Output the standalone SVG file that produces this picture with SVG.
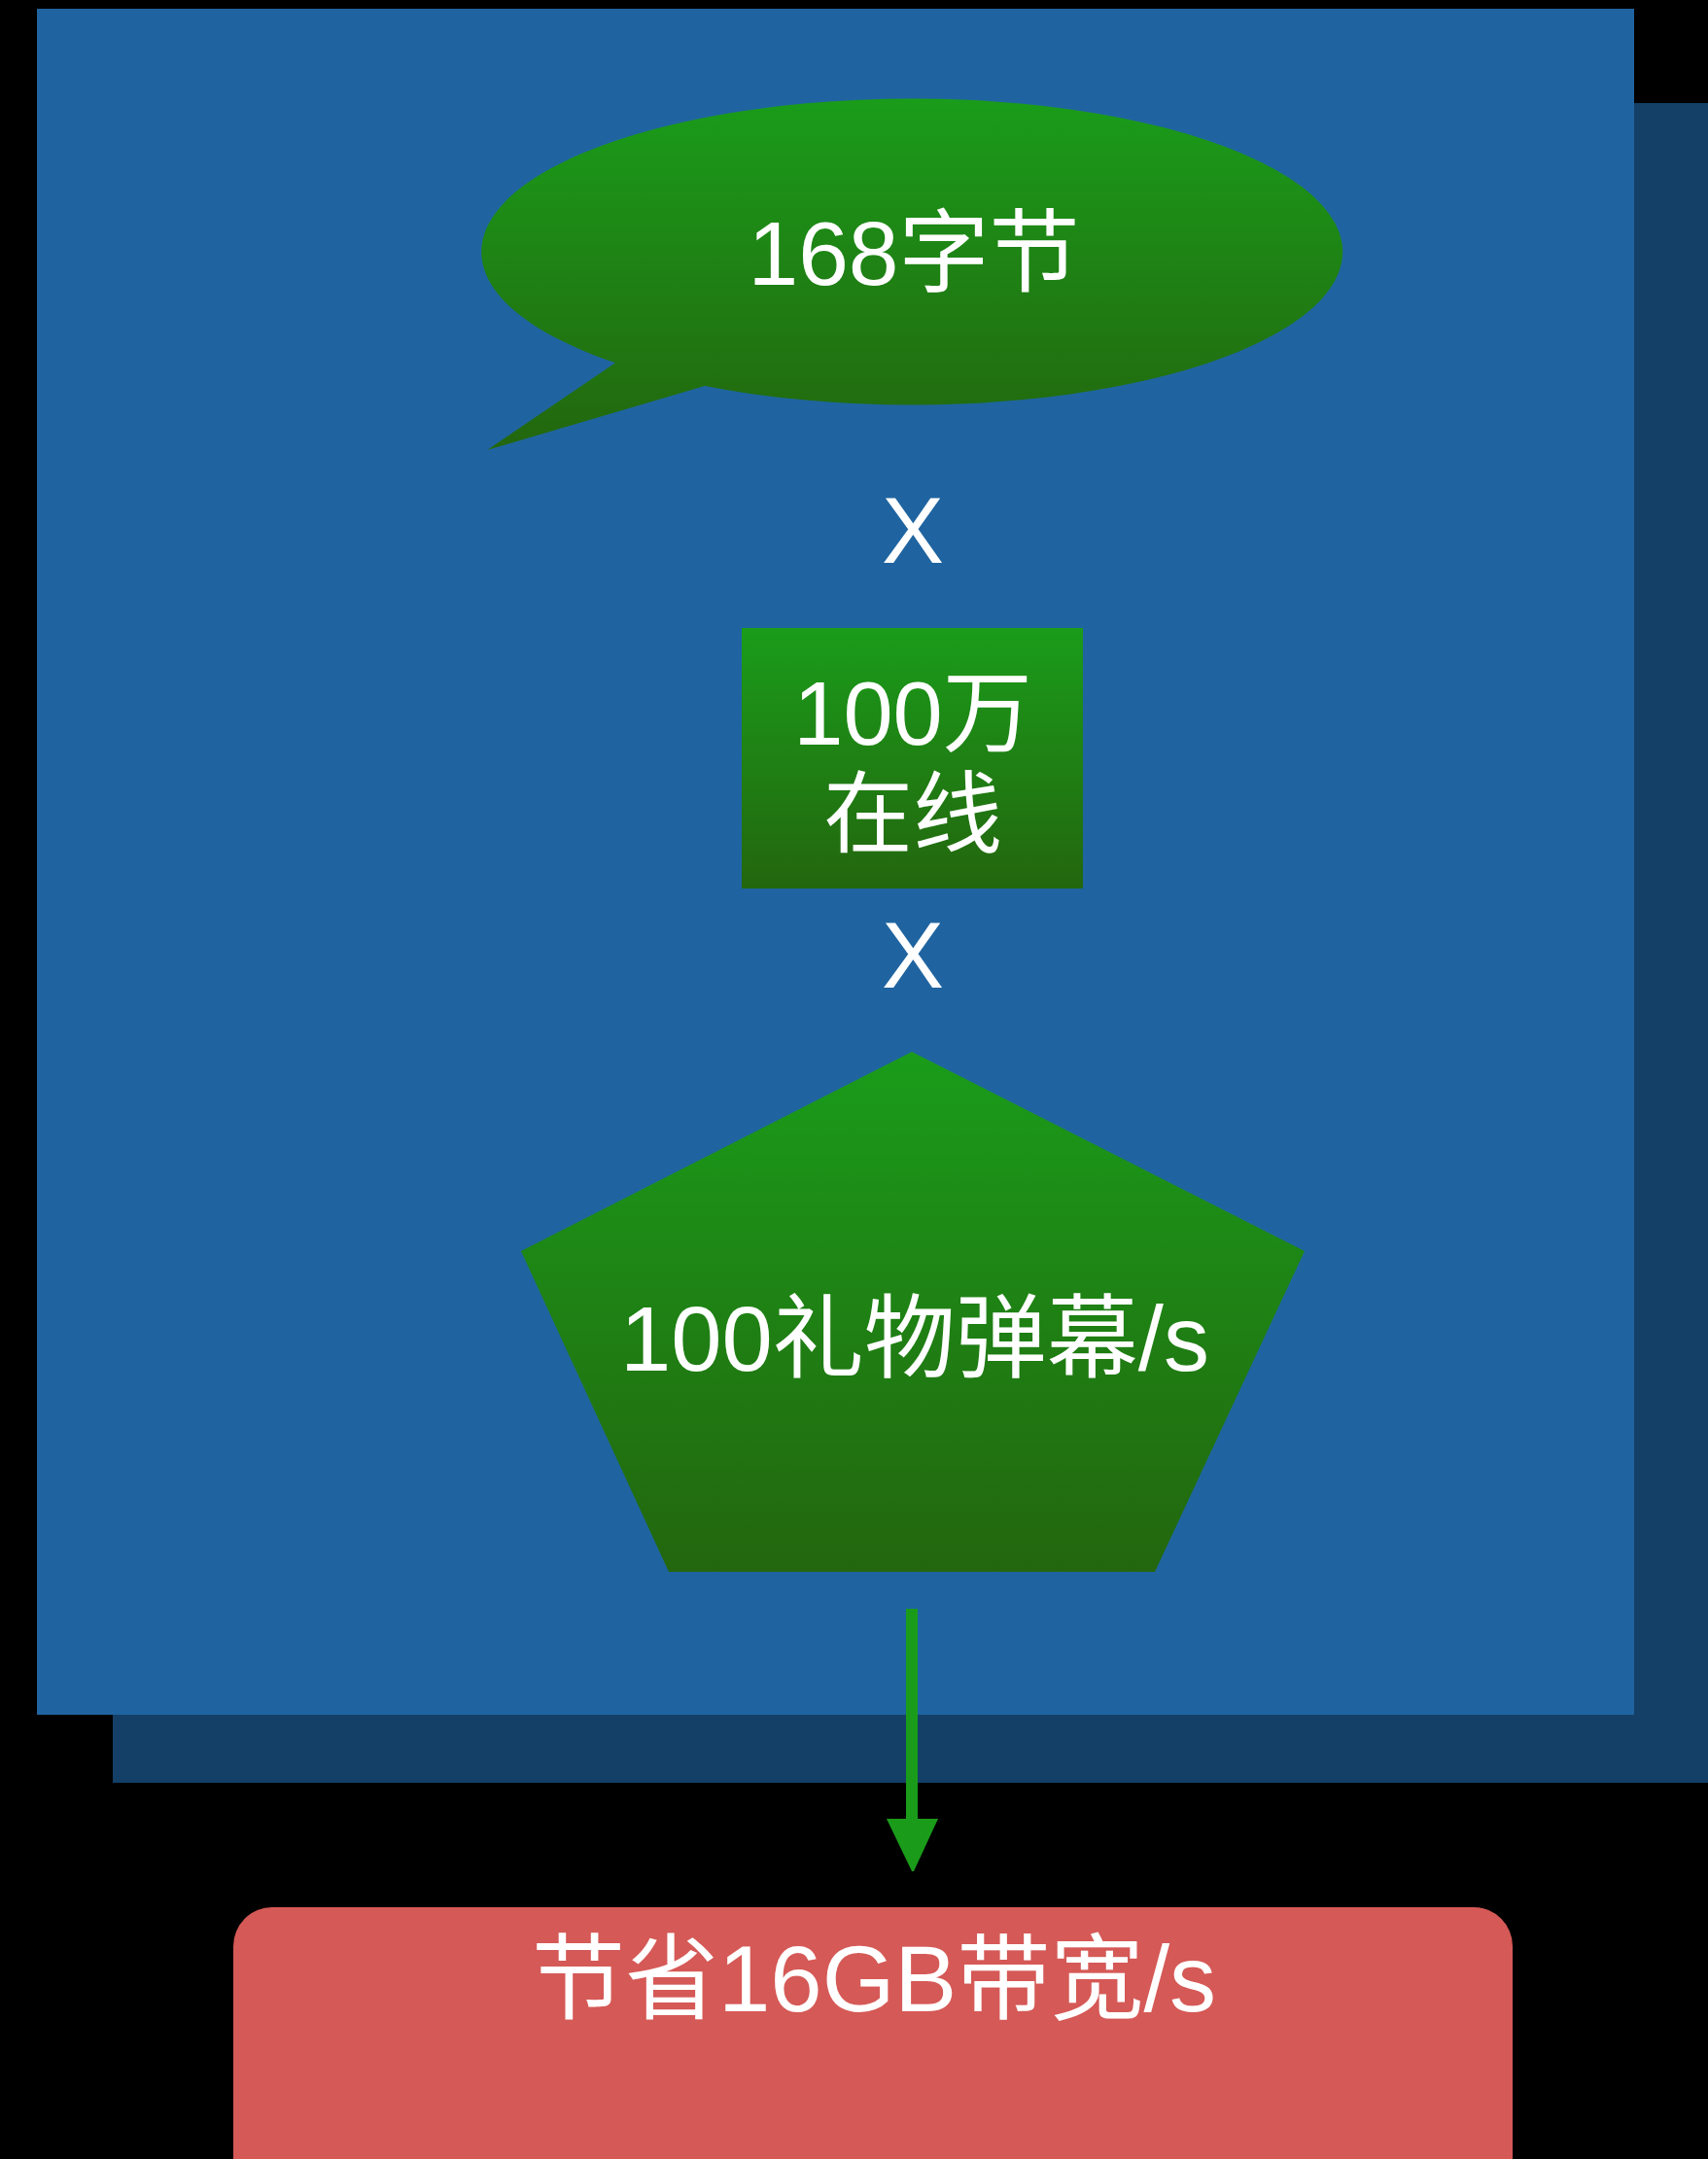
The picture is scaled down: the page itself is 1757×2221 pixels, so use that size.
<svg xmlns="http://www.w3.org/2000/svg" width="1757" height="2221" viewBox="0 0 1757 2221">
<defs>
<linearGradient id="g1" x1="0" y1="0" x2="0" y2="1">
<stop offset="0" stop-color="#1a9c1a"/>
<stop offset="1" stop-color="#23660e"/>
</linearGradient>
<style>
.t{fill:#ffffff;font-family:"Liberation Sans","Noto Sans CJK SC",sans-serif;text-anchor:middle}
.node{fill:url(#g1)}
</style>
</defs>
<rect x="0" y="0" width="1757" height="2221" fill="#000000"/>
<g id="panel">
<rect x="116" y="106" width="1641" height="1728" fill="#143f66"/>
<rect x="38" y="9" width="1643" height="1755" fill="#1f64a0"/>
</g>
<g id="bubble">
<path class="node" d="M633,373.2 A443,157.5 0 1 1 725,397.1 L501,463 Z"/>
<text class="t" x="940" y="293" font-size="93">168字节</text>
</g>
<g id="x1"><text class="t" x="939" y="579" font-size="96">X</text></g>
<g id="online">
<rect class="node" x="763" y="646" width="351" height="268"/>
<text class="t" x="939" y="766" font-size="92">100万</text>
<text class="t" x="939" y="870" font-size="92">在线</text>
</g>
<g id="x2"><text class="t" x="939" y="1016" font-size="96">X</text></g>
<g id="gifts">
<polygon class="node" points="938,1082 1342,1287 1188,1617 688,1617 536,1287"/>
<text class="t" x="941" y="1410" font-size="94">100礼物弹幕/s</text>
</g>
<g id="connectors">
<line x1="938" y1="1655" x2="938" y2="1875" stroke="#1a9c1a" stroke-width="12"/>
<path d="M912,1871 L965,1871 L940,1925 L938,1925 Z" fill="#1a9c1a"/>
</g>
<g id="result">
<rect x="240" y="1962" width="1316" height="320" rx="40" ry="40" fill="#d55956"/>
<text class="t" x="899" y="2069" font-size="96">节省16GB带宽/s</text>
</g>
</svg>
